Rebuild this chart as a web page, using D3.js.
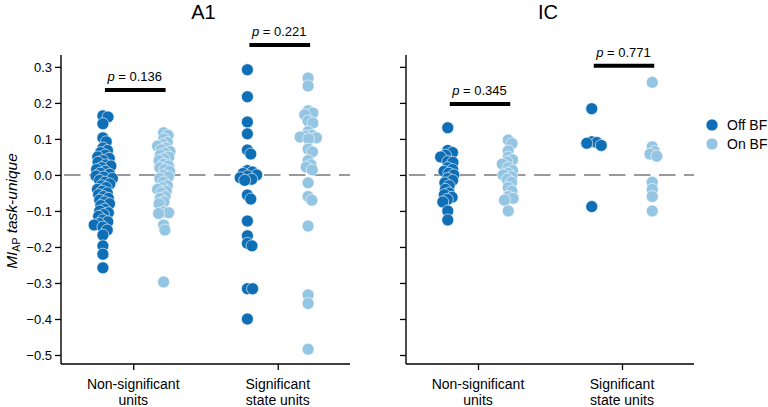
<!DOCTYPE html>
<html><head><meta charset="utf-8">
<script src="https://cdn.jsdelivr.net/npm/d3@7/dist/d3.min.js"></script>
<style>body{margin:0;background:#fff}svg{font-family:"Liberation Sans",Arial,sans-serif}</style>
</head><body><svg id="c" width="768" height="407"></svg>
<script>
// ---- data ----
const panels = ["A1", "IC"];
const categories = ["Non-significant units", "Significant state units"];
const hues = ["Off BF", "On BF"];
const yTicks = [0.3, 0.2, 0.1, 0.0, -0.1, -0.2, -0.3, -0.4, -0.5];

const a1NonSigOff = [0.164,0.161,0.142,0.103,0.092,0.075,0.068,0.062,0.055,0.05,0.046,0.04,0.035,0.028,0.025,0.02,0.015,0.01,0.005,0.002,-0.003,-0.006,-0.01,-0.015,-0.02,-0.025,-0.03,-0.035,-0.04,-0.045,-0.05,-0.055,-0.06,-0.065,-0.07,-0.075,-0.08,-0.085,-0.095,-0.1,-0.105,-0.11,-0.115,-0.125,-0.13,-0.135,-0.139,-0.145,-0.153,-0.167,-0.197,-0.22,-0.258];
const a1NonSigOn = [0.117,0.11,0.1,0.09,0.085,0.08,0.075,0.07,0.065,0.06,0.055,0.05,0.045,0.04,0.03,0.025,0.02,0.015,0.01,0.0,-0.005,-0.01,-0.02,-0.03,-0.035,-0.04,-0.045,-0.05,-0.06,-0.065,-0.075,-0.08,-0.103,-0.105,-0.107,-0.139,-0.153,-0.297];
const a1SigOff = [0.292,0.217,0.147,0.114,0.069,0.058,0.012,0.008,0.004,0.0,-0.003,-0.008,-0.012,-0.015,-0.056,-0.067,-0.128,-0.169,-0.19,-0.197,-0.316,-0.316,-0.4];
const a1SigOn = [0.269,0.247,0.178,0.172,0.167,0.15,0.144,0.12,0.11,0.108,0.105,0.103,0.1,0.072,0.064,0.04,0.028,0.022,0.014,-0.022,-0.06,-0.07,-0.142,-0.333,-0.357,-0.484];
const icNonSigOff = [0.131,0.068,0.062,0.055,0.05,0.037,0.035,0.02,0.015,0.01,0.005,0.0,-0.01,-0.015,-0.022,-0.03,-0.04,-0.05,-0.055,-0.062,-0.068,-0.075,-0.1,-0.125];
const icNonSigOn = [0.097,0.087,0.067,0.05,0.042,0.036,0.03,0.02,0.012,0.005,0.0,-0.005,-0.012,-0.02,-0.035,-0.045,-0.06,-0.065,-0.07,-0.1];
const icSigOff = [0.184,0.092,0.09,0.088,0.082,-0.088];
const icSigOn = [0.257,0.078,0.065,0.058,0.052,-0.02,-0.04,-0.06,-0.1];

const pValues = [["0.136","0.221"],["0.345","0.771"]];
const barLevels = [[0.236,0.361],[0.197,0.303]];

const series = [
  [[a1NonSigOff, a1NonSigOn],[a1SigOff, a1SigOn]],
  [[icNonSigOff, icNonSigOn],[icSigOff, icSigOn]]
];

// ---- layout ----
const colors = ["#0f6fb6", "#94c5e3"];
const svg = d3.select("#c");
const y = d3.scaleLinear().domain([-0.525, 0.333]).range([364, 55]);
const xRanges = [[61, 350], [406, 694]];
const R = 6;
const FONT = '"Liberation Sans",Arial,sans-serif';

function swarm(vals, cx, coll, maxW) {
  const pts = vals.map(v => ({v, py: y(v)})).sort((a,b)=>a.py-b.py);
  const placed = [];
  pts.forEach(p => {
    const cands = [0];
    placed.forEach(q => {
      const dy = Math.abs(q.py - p.py);
      if (dy < coll) { const dx = Math.sqrt(coll*coll - dy*dy); cands.push(q.off + dx, q.off - dx); }
    });
    cands.sort((a,b)=>Math.abs(a)-Math.abs(b));
    let off = null;
    for (const c of cands) {
      if (Math.abs(c) > maxW) continue;
      if (placed.every(q => (q.off-c)**2 + (q.py-p.py)**2 >= coll*coll - 0.01)) { off = c; break; }
    }
    if (off === null) {
      // least-overlap position within the allowed width
      let best = 0, bestD = -1;
      for (let c = -maxW; c <= maxW; c += 1) {
        const dmin = d3.min(placed, q => (q.off-c)**2 + (q.py-p.py)**2);
        if (dmin > bestD) { bestD = dmin; best = c; }
      }
      off = best;
    }
    p.off = off; placed.push(p);
  });
  return pts.map(p => ({v: p.v, x: cx + p.off, y: p.py}));
}

panels.forEach((name, pi) => {
  const x = d3.scalePoint().domain(categories).range(xRanges[pi]).padding(0.5);
  const step = x.step();
  const hueOff = [-0.21*step, 0.21*step];
  const g = svg.append("g");

  // zero dashed line
  g.append("line").attr("x1", xRanges[pi][0]+3).attr("x2", xRanges[pi][1])
    .attr("y1", y(0)).attr("y2", y(0))
    .attr("stroke", "#999").attr("stroke-width", 2).attr("stroke-dasharray", "16.5,8.5");

  // points
  categories.forEach((cat, ci) => {
    hues.forEach((h, hi) => {
      const pts = swarm(series[pi][ci][hi], x(cat) + hueOff[hi], 5.2, 9.5);
      g.selectAll(null).data(pts).enter().append("circle")
        .attr("cx", d => d.x).attr("cy", d => d.y).attr("r", R)
        .attr("fill", colors[hi]).attr("stroke", "#fff").attr("stroke-width", 0.6);
    });
    // significance bar
    const by = y(barLevels[pi][ci]);
    g.append("line").attr("x1", x(cat)+hueOff[0]+2).attr("x2", x(cat)+hueOff[1]+2)
      .attr("y1", by).attr("y2", by).attr("stroke", "#000").attr("stroke-width", 4);
    const t = g.append("text").attr("x", x(cat)+1.5).attr("y", by - 9)
      .attr("text-anchor", "middle").attr("font-size", 13);
    t.append("tspan").attr("font-style", "italic").text("p");
    t.append("tspan").text(" = " + pValues[pi][ci]);
  });

  // axes
  const ya = d3.axisLeft(y).tickValues(yTicks).tickSize(6).tickPadding(3).tickSizeOuter(0)
    .tickFormat(pi === 0 ? (d => d3.format(".1f")(d).replace("-", "\u2212")) : (() => ""));
  const yg = g.append("g").attr("transform", `translate(${xRanges[pi][0]},0)`).call(ya);
  const xa = d3.axisBottom(x).tickSize(6).tickSizeOuter(0).tickFormat(() => "");
  const xg = g.append("g").attr("transform", `translate(0,364)`).call(xa);
  [yg, xg].forEach(a => {
    a.select(".domain").attr("stroke", "#000").attr("stroke-width", 1.4);
    a.selectAll(".tick line").attr("stroke", "#000").attr("stroke-width", 1.3);
    a.selectAll("text").attr("font-size", 13).attr("fill", "#000").attr("font-family", FONT);
  });
  yg.select(".domain").attr("d", `M0,${y.range()[0]}V${y.range()[1]}`);
  xg.select(".domain").attr("d", `M${xRanges[pi][0]},0H${xRanges[pi][1]}`);

  // category labels (two lines)
  categories.forEach(cat => {
    const words = cat === categories[0] ? ["Non-significant", "units"] : ["Significant", "state units"];
    words.forEach((w, li) => {
      g.append("text").attr("x", x(cat)).attr("y", 389 + li*16).attr("text-anchor", "middle")
        .attr("font-size", 14).text(w);
    });
  });

  // title
  g.append("text").attr("x", (xRanges[pi][0]+xRanges[pi][1])/2 - 2).attr("y", 19)
    .attr("text-anchor", "middle").attr("font-size", 20).text(name);
});

// y label
const yl = svg.append("text").attr("transform", "translate(17,211) rotate(-90)")
  .attr("text-anchor", "middle").attr("font-size", 15.5);
yl.append("tspan").attr("font-style", "italic").text("MI");
yl.append("tspan").attr("font-size", 10.5).attr("dy", 3).text("AP");
yl.append("tspan").attr("font-style", "italic").attr("dy", -3).text(" task-unique");

// legend
hues.forEach((h, i) => {
  svg.append("circle").attr("cx", 712).attr("cy", 125 + i*19).attr("r", 6)
    .attr("fill", colors[i]).attr("stroke", "#fff").attr("stroke-width", 0.6);
  svg.append("text").attr("x", 727).attr("y", 130 + i*19).attr("font-size", 14).text(h);
});
</script></body></html>
